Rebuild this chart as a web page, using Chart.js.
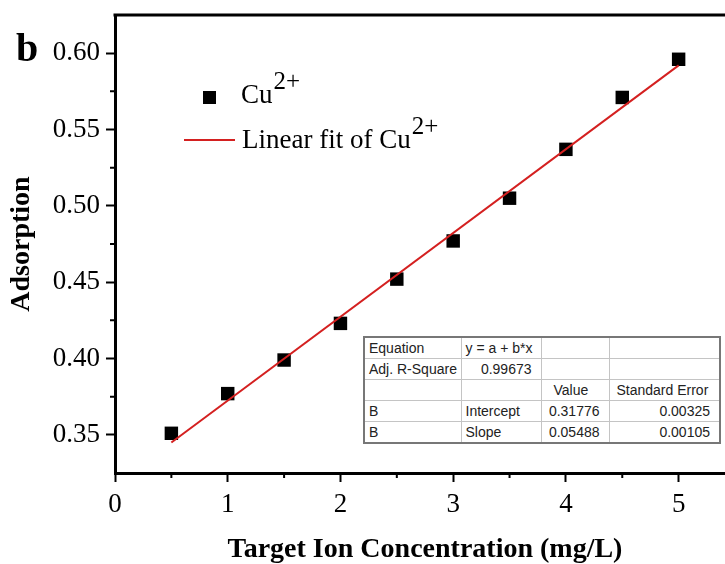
<!DOCTYPE html>
<html>
<head>
<meta charset="utf-8">
<script src="https://cdn.jsdelivr.net/npm/chart.js@4.4.1/dist/chart.umd.min.js"></script>
<style>
html, body { margin: 0; padding: 0; background: #fff; overflow: hidden; }
#wrap { position: relative; width: 725px; height: 564px; overflow: hidden; }
#chart { position: absolute; left: 0; top: 0; }
table.fit {
    position: absolute; left: 363px; top: 336px; width: 356px;
    border-collapse: collapse; table-layout: fixed;
    font-family: "Liberation Sans", Arial, sans-serif; font-size: 14px; color: #222;
    background: #fff; border: 2px solid #777;
}
table.fit td { border: 1px solid #c4c4c4; height: 20px; line-height: 20px; padding: 0 0 0 4px; white-space: nowrap; overflow: hidden; }
table.fit td.num { text-align: right; padding: 0 9px 0 0; }
table.fit td.hd3 { padding-left: 12px; }
table.fit td.hd4 { padding-left: 7px; }
</style>
</head>
<body>
<div id="wrap">
    <canvas id="chart" width="745" height="564"></canvas>
    <table class="fit">
        <colgroup><col style="width:97px"><col style="width:80px"><col style="width:68px"><col style="width:111px"></colgroup>
        <tr><td>Equation</td><td>y = a + b*x</td><td></td><td></td></tr>
        <tr><td>Adj. R-Square</td><td class="num">0.99673</td><td></td><td></td></tr>
        <tr><td></td><td></td><td class="hd3">Value</td><td class="hd4">Standard Error</td></tr>
        <tr><td>B</td><td>Intercept</td><td class="num">0.31776</td><td class="num">0.00325</td></tr>
        <tr><td>B</td><td>Slope</td><td class="num">0.05488</td><td class="num">0.00105</td></tr>
    </table>
</div>
<script>
// measured points
var concentration = [0.5, 1, 1.5, 2, 2.5, 3, 3.5, 4, 4.5, 5];
var adsorption = [0.351, 0.377, 0.399, 0.423, 0.452, 0.477, 0.505, 0.537, 0.571, 0.596];

// fitted line end points
var fitX = [0.5, 5];
var fitY = [0.345, 0.592];

var xTicks = [0, 1, 2, 3, 4, 5];
var yTicks = [0.35, 0.40, 0.45, 0.50, 0.55, 0.60];
var xMinorTicks = [0.5, 1.5, 2.5, 3.5, 4.5];
var yMinorTicks = [0.375, 0.425, 0.475, 0.525, 0.575];

var serif = '"Liberation Serif", "Times New Roman", serif';

var framePlugin = {
    id: 'frame',
    afterDraw: function (chart) {
        var ctx = chart.ctx;
        var area = chart.chartArea;
        var x = chart.scales.x, y = chart.scales.y;
        ctx.save();
        ctx.strokeStyle = '#000';
        ctx.lineWidth = 2;
        ctx.beginPath();
        xMinorTicks.forEach(function (v) {
            var px = x.getPixelForValue(v);
            ctx.moveTo(px, area.bottom);
            ctx.lineTo(px, area.bottom + 5);
        });
        yMinorTicks.forEach(function (v) {
            var py = y.getPixelForValue(v);
            ctx.moveTo(area.left - 5, py);
            ctx.lineTo(area.left, py);
        });
        ctx.stroke();
        // top and right frame
        ctx.lineWidth = 3;
        ctx.beginPath();
        ctx.moveTo(area.left - 1.5, area.top);
        ctx.lineTo(area.right, area.top);
        ctx.lineTo(area.right, area.bottom);
        ctx.stroke();

        // panel letter
        ctx.fillStyle = '#000';
        ctx.textBaseline = 'alphabetic';
        ctx.font = 'bold 40px ' + serif;
        ctx.fillText('b', 16, 61);

        // legend
        ctx.fillRect(203, 91, 13, 13);
        ctx.font = '27px ' + serif;
        ctx.fillText('Cu', 241, 103);
        var w1 = ctx.measureText('Cu').width;
        ctx.font = '25px ' + serif;
        ctx.fillText('2+', 241 + w1 + 1, 89);

        ctx.strokeStyle = '#d42020';
        ctx.lineWidth = 2;
        ctx.beginPath();
        ctx.moveTo(184, 140);
        ctx.lineTo(235, 140);
        ctx.stroke();
        ctx.font = '27px ' + serif;
        ctx.fillText('Linear fit of Cu', 242, 148);
        var w2 = ctx.measureText('Linear fit of Cu').width;
        ctx.font = '25px ' + serif;
        ctx.fillText('2+', 242 + w2 + 1, 134);
        ctx.restore();
    }
};

new Chart(document.getElementById('chart').getContext('2d'), {
    type: 'scatter',
    data: {
        datasets: [
            {
                type: 'line',
                label: 'Linear fit of Cu2+',
                data: fitX.map(function (v, i) { return { x: v, y: fitY[i] }; }),
                borderColor: '#d42020',
                borderWidth: 2,
                pointRadius: 0,
                fill: false
            },
            {
                label: 'Cu2+',
                data: concentration.map(function (v, i) { return { x: v, y: adsorption[i] }; }),
                pointStyle: 'rect',
                pointRadius: 9.5,
                backgroundColor: '#000',
                borderColor: '#000',
                borderWidth: 0
            }
        ]
    },
    options: {
        responsive: false,
        animation: false,
        layout: { padding: { top: 15, right: 10, left: 0, bottom: 0 } },
        plugins: { legend: { display: false }, tooltip: { enabled: false } },
        scales: {
            x: {
                type: 'linear', min: 0, max: 5.5,
                afterBuildTicks: function (s) { s.ticks = xTicks.map(function (v) { return { value: v }; }); },
                afterFit: function (s) { s.height = 91; s.paddingLeft = 0; s.paddingRight = 0; },
                ticks: { color: '#000', padding: 7, font: { family: serif, size: 27 }, callback: function (v) { return String(v); } },
                grid: { drawOnChartArea: false, tickLength: 9, tickWidth: 2, tickColor: '#000' },
                border: { width: 3, color: '#000' },
                title: { display: true, text: 'Target Ion Concentration (mg/L)', color: '#000', font: { family: serif, size: 28, weight: 'bold' }, padding: { top: 0, bottom: -3 } }
            },
            y: {
                type: 'linear', min: 0.325, max: 0.625,
                afterBuildTicks: function (s) { s.ticks = yTicks.map(function (v) { return { value: v }; }); },
                afterFit: function (s) { s.width = 115; s.paddingTop = 0; s.paddingBottom = 0; },
                ticks: { color: '#000', padding: 6, font: { family: serif, size: 27 }, callback: function (v) { return v.toFixed(2); } },
                grid: { drawOnChartArea: false, tickLength: 9, tickWidth: 2, tickColor: '#000' },
                border: { width: 3, color: '#000' },
                title: { display: true, text: 'Adsorption', color: '#000', font: { family: serif, size: 28, weight: 'bold' }, padding: { top: 5, bottom: 0 } }
            }
        }
    },
    plugins: [framePlugin]
});
</script>
</body>
</html>
